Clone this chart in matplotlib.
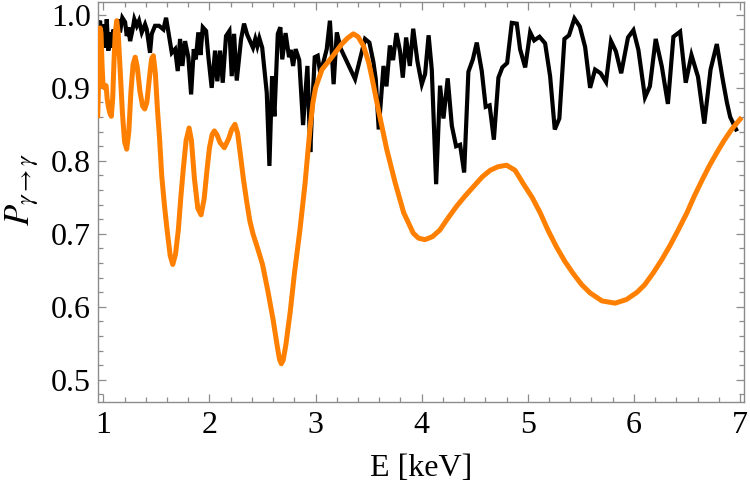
import matplotlib
matplotlib.use("Agg")
import matplotlib.pyplot as plt
from matplotlib.ticker import MultipleLocator, FormatStrFormatter

# ---- data ----
black_E = [0.950, 0.953, 0.969, 0.980, 0.991, 1.009, 1.020, 1.032, 1.047, 1.063, 1.079, 1.094,
           1.117, 1.141, 1.157, 1.179, 1.205, 1.221, 1.236, 1.252, 1.273, 1.292, 1.315, 1.336,
           1.362, 1.393, 1.409, 1.440, 1.456, 1.487, 1.525, 1.566, 1.591, 1.619, 1.645, 1.676,
           1.701, 1.723, 1.745, 1.770, 1.801, 1.827, 1.852, 1.871, 1.895, 1.915, 1.937, 1.968,
           1.990, 2.021, 2.053, 2.074, 2.100, 2.125, 2.156, 2.188, 2.210, 2.232, 2.257, 2.298,
           2.326, 2.355, 2.389, 2.410, 2.432, 2.451, 2.470, 2.497, 2.540, 2.565, 2.590, 2.612,
           2.644, 2.668, 2.686, 2.717, 2.750, 2.765, 2.788, 2.812, 2.846, 2.882, 2.923, 2.950,
           2.972, 2.992, 3.020, 3.040, 3.070, 3.105, 3.135, 3.170, 3.200, 3.236, 3.372, 3.466,
           3.507, 3.545, 3.567, 3.595, 3.640, 3.668, 3.700, 3.730, 3.762, 3.796, 3.822, 3.853,
           3.888, 3.920, 3.960, 4.001, 4.032, 4.065, 4.095, 4.136, 4.173, 4.205, 4.245, 4.284,
           4.324, 4.362, 4.400, 4.440, 4.482, 4.519, 4.566, 4.603, 4.640, 4.680, 4.723, 4.760,
           4.805, 4.849, 4.896, 4.927, 4.975, 5.022, 5.060, 5.110, 5.163, 5.210, 5.254, 5.297,
           5.345, 5.388, 5.439, 5.490, 5.540, 5.587, 5.634, 5.686, 5.737, 5.784, 5.830, 5.880,
           5.944, 5.995, 6.042, 6.104, 6.150, 6.205, 6.263, 6.320, 6.372, 6.435, 6.488, 6.542,
           6.604, 6.663, 6.722, 6.781, 6.836, 6.876, 6.907, 6.963]
black_P = [0.990, 0.962, 0.992, 0.965, 0.987, 0.976, 0.955, 0.994, 0.951, 0.976, 0.955, 0.980,
           0.971, 0.994, 0.976, 0.996, 0.990, 0.971, 0.983, 0.964, 0.978, 0.994, 0.985, 0.992,
           0.976, 0.987, 0.980, 0.948, 0.974, 0.985, 0.985, 0.980, 0.996, 0.971, 0.948, 0.953,
           0.923, 0.967, 0.930, 0.964, 0.942, 0.891, 0.953, 0.939, 0.976, 0.945, 0.983, 0.978,
           0.942, 0.900, 0.951, 0.909, 0.951, 0.907, 0.971, 0.978, 0.916, 0.974, 0.910, 0.967,
           0.988, 0.973, 0.962, 0.955, 0.967, 0.957, 0.968, 0.955, 0.893, 0.793, 0.916, 0.861,
           0.974, 0.983, 0.939, 0.975, 0.942, 0.952, 0.930, 0.953, 0.938, 0.849, 0.930, 0.812,
           0.885, 0.942, 0.944, 0.924, 0.933, 0.953, 0.992, 0.905, 0.976, 0.954, 0.912, 0.967,
           0.962, 0.935, 0.912, 0.843, 0.930, 0.902, 0.958, 0.938, 0.975, 0.950, 0.914, 0.969,
           0.930, 0.981, 0.936, 0.905, 0.919, 0.972, 0.925, 0.768, 0.903, 0.858, 0.913, 0.848,
           0.820, 0.822, 0.784, 0.922, 0.939, 0.962, 0.923, 0.874, 0.876, 0.829, 0.914, 0.928,
           0.934, 0.989, 0.988, 0.953, 0.928, 0.976, 0.965, 0.970, 0.961, 0.916, 0.843, 0.858,
           0.967, 0.972, 0.995, 0.984, 0.956, 0.900, 0.925, 0.920, 0.908, 0.964, 0.950, 0.920,
           0.969, 0.979, 0.952, 0.887, 0.902, 0.967, 0.929, 0.878, 0.970, 0.977, 0.907, 0.945,
           0.915, 0.851, 0.925, 0.960, 0.912, 0.880, 0.860, 0.843]

orange_E = [0.947, 0.955, 0.962, 0.970, 0.978, 0.988, 0.998, 1.012, 1.026, 1.036, 1.048, 1.060,
            1.075, 1.088, 1.100, 1.112, 1.126, 1.140, 1.160, 1.180, 1.200, 1.220, 1.240, 1.260,
            1.280, 1.300, 1.320, 1.345, 1.370, 1.390, 1.410, 1.435, 1.455, 1.471, 1.490, 1.510,
            1.530, 1.550, 1.575, 1.600, 1.630, 1.654, 1.680, 1.707, 1.730, 1.754, 1.780, 1.808,
            1.830, 1.858, 1.890, 1.921, 1.950, 1.975, 2.000, 2.025, 2.046, 2.070, 2.100, 2.140,
            2.180, 2.210, 2.240, 2.265, 2.290, 2.320, 2.350, 2.380, 2.410, 2.450, 2.500, 2.550,
            2.600, 2.640, 2.660, 2.677, 2.695, 2.720, 2.760, 2.800, 2.853, 2.900, 2.948, 2.975,
            3.000, 3.060, 3.153, 3.247, 3.300, 3.356, 3.400, 3.450, 3.500, 3.530, 3.590, 3.670,
            3.750, 3.830, 3.920, 3.970, 4.030, 4.100, 4.170, 4.250, 4.330, 4.410, 4.490, 4.570,
            4.645, 4.720, 4.800, 4.880, 4.960, 5.040, 5.116, 5.190, 5.270, 5.350, 5.430, 5.510,
            5.587, 5.700, 5.823, 5.930, 6.030, 6.100, 6.180, 6.260, 6.340, 6.420, 6.500, 6.570,
            6.640, 6.710, 6.780, 6.850, 6.920, 7.000]
orange_P = [0.862, 0.905, 0.955, 0.982, 0.975, 0.930, 0.902, 0.900, 0.903, 0.885, 0.874, 0.866,
            0.861, 0.885, 0.935, 0.975, 0.992, 0.975, 0.920, 0.865, 0.826, 0.816, 0.840, 0.895,
            0.932, 0.942, 0.928, 0.895, 0.875, 0.871, 0.880, 0.915, 0.940, 0.944, 0.920, 0.870,
            0.830, 0.780, 0.740, 0.706, 0.670, 0.658, 0.672, 0.706, 0.750, 0.790, 0.828, 0.845,
            0.828, 0.776, 0.735, 0.726, 0.748, 0.785, 0.818, 0.836, 0.841, 0.836, 0.825, 0.818,
            0.830, 0.843, 0.850, 0.838, 0.810, 0.775, 0.745, 0.718, 0.700, 0.682, 0.658, 0.622,
            0.582, 0.545, 0.528, 0.522, 0.527, 0.548, 0.592, 0.645, 0.706, 0.768, 0.845, 0.880,
            0.900, 0.925, 0.942, 0.960, 0.968, 0.974, 0.970, 0.958, 0.935, 0.915, 0.871, 0.816,
            0.770, 0.729, 0.701, 0.694, 0.692, 0.696, 0.705, 0.722, 0.738, 0.752, 0.765, 0.778,
            0.787, 0.792, 0.794, 0.787, 0.768, 0.750, 0.729, 0.705, 0.682, 0.662, 0.645, 0.630,
            0.619, 0.608, 0.605, 0.610, 0.620, 0.630, 0.646, 0.664, 0.684, 0.706, 0.729, 0.752,
            0.773, 0.793, 0.811, 0.828, 0.843, 0.857]

x_ticks = [1, 2, 3, 4, 5, 6, 7]
y_ticks = [0.5, 0.6, 0.7, 0.8, 0.9, 1.0]
x_label = "E [keV]"
y_label = r"$P_{\gamma\to\gamma}$"

# ---- figure ----
plt.rcParams["font.family"] = ["Liberation Serif", "DejaVu Serif"]
plt.rcParams["mathtext.fontset"] = "stix"

fig = plt.figure(figsize=(7.5, 4.9), dpi=100)
ax = fig.add_axes([0.1303, 0.1802, 0.8621, 0.8163])

ax.plot(black_E, black_P, color="black", lw=3.0, solid_joinstyle="miter", zorder=2)
ax.plot(orange_E, orange_P, color="#ff8000", lw=3.6, solid_joinstyle="round", zorder=3)

ax.set_xlim(0.947, 7.04)
ax.set_ylim(0.470, 1.018)

ax.set_xticks(x_ticks)
ax.set_yticks(y_ticks)
ax.xaxis.set_minor_locator(MultipleLocator(0.2))
ax.yaxis.set_minor_locator(MultipleLocator(0.02))
ax.yaxis.set_major_formatter(FormatStrFormatter("%.1f"))

frame_col = "#8c8c8c"
for sp in ax.spines.values():
    sp.set_color(frame_col)
    sp.set_linewidth(1.0)

ax.tick_params(which="both", direction="in", top=True, right=True,
               color=frame_col, width=0.9, labelsize=23, labelcolor="black")
ax.tick_params(which="major", length=5.5)
ax.tick_params(which="minor", length=3.3)
ax.tick_params(axis="x", which="major", pad=7)
ax.tick_params(axis="y", which="major", pad=5)

ax.set_xlabel(x_label, fontsize=23)
ax.xaxis.set_label_coords(0.5, -0.13)
ax.set_ylabel(y_label, fontsize=25)
ax.yaxis.set_label_coords(-0.087, 0.53)

fig.savefig("out.png", dpi=100)
